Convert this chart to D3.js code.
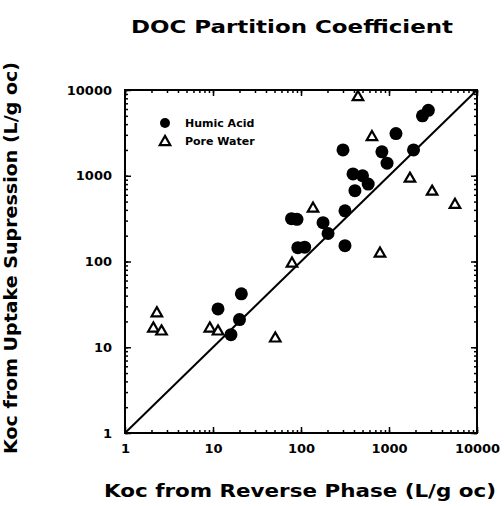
<!DOCTYPE html>
<html lang="en">
<head>
  <meta charset="UTF-8">
  <title>DOC Partition Coefficient</title>
  <script src="https://d3js.org/d3.v7.min.js"></script>
  <style>
    body {
      margin: 0;
      background-color: #fff;
    }
    text {
      font-family: "DejaVu Sans", sans-serif;
      font-weight: bold;
      fill: #000;
    }
    .frame {
      fill: none;
      stroke: #000;
      stroke-width: 2;
    }
    .axis path { display: none; }
    .axis line { stroke: #000; stroke-width: 1.5; }
    .humic { fill: #000; }
    .pore { fill: #fff; stroke: #000; stroke-width: 2.2; }
  </style>
</head>
<body>
  <svg id="chart"></svg>

  <script>
    // data (Koc reverse phase, Koc uptake supression)
    const humicX = [2800, 2400, 1200, 300, 830, 950, 1900, 390, 500, 580, 410,
                    78, 90, 178, 316, 203, 92, 110, 316, 21, 11.4, 20, 16];
    const humicY = [5800, 5000, 3100, 2000, 1900, 1400, 2000, 1050, 1000, 800, 670,
                    316, 310, 284, 390, 212, 145, 147, 153, 42, 28, 21, 14];

    const poreX = [444, 640, 1730, 3090, 5620, 790, 137, 79, 51, 2.3, 2.1, 2.6, 9.2, 11.4];
    const poreY = [8500, 2900, 950, 670, 470, 127, 425, 97, 13, 25.6, 17, 15.7, 17, 15.7];

    const tickLabels = ["1", "10", "100", "1000", "10000"];
    const legendNames = ["Humic Acid", "Pore Water"];

    const width = 504;
    const height = 506;
    const margin = {top: 90, right: 27, bottom: 73, left: 125};

    const svg = d3.select("#chart")
      .attr("width", width)
      .attr("height", height);

    const x = d3.scaleLog().domain([1, 10000]).range([margin.left, width - margin.right]);
    const y = d3.scaleLog().domain([1, 10000]).range([height - margin.bottom, margin.top]);

    // all log tick positions, 1..9 per decade
    const minor = [];
    for (let d = 1; d < 10000; d *= 10) {
      for (let k = 1; k < 10; k++) minor.push(d * k);
    }
    minor.push(10000);
    const major = tickLabels.map(Number);

    // ticks pointing into the plot on all four sides
    function drawTicks(axisFn, scale, values, size, transform, withLabels, pad) {
      const ax = axisFn(scale)
        .tickValues(values)
        .tickSizeInner(-size)
        .tickSizeOuter(0)
        .tickPadding(pad)
        .tickFormat(withLabels ? d => tickLabels[major.indexOf(d)] : "");
      return svg.append("g")
        .attr("class", "axis")
        .attr("transform", transform)
        .call(ax);
    }

    const x0 = margin.left, x1 = width - margin.right;
    const y0 = height - margin.bottom, y1 = margin.top;

    drawTicks(d3.axisBottom, x, minor, 3, `translate(0,${y0})`, false, 0);
    drawTicks(d3.axisTop, x, minor, 3, `translate(0,${y1})`, false, 0);
    drawTicks(d3.axisLeft, y, minor, 3, `translate(${x0},0)`, false, 0);
    drawTicks(d3.axisRight, y, minor, 3, `translate(${x1},0)`, false, 0);

    drawTicks(d3.axisBottom, x, major, 6, `translate(0,${y0})`, true, 11);
    drawTicks(d3.axisTop, x, major, 6, `translate(0,${y1})`, false, 0);
    drawTicks(d3.axisLeft, y, major, 6, `translate(${x0},0)`, true, 13);
    drawTicks(d3.axisRight, y, major, 6, `translate(${x1},0)`, false, 0);

    svg.selectAll(".axis text")
      .attr("font-size", 13)
      .attr("font-family", "DejaVu Sans")
      .attr("font-weight", "bold");

    // frame
    svg.append("rect")
      .attr("class", "frame")
      .attr("x", x0)
      .attr("y", y1)
      .attr("width", x1 - x0)
      .attr("height", y0 - y1);

    // 1:1 line
    svg.append("line")
      .attr("x1", x(1)).attr("y1", y(1))
      .attr("x2", x(10000)).attr("y2", y(10000))
      .attr("stroke", "#000")
      .attr("stroke-width", 2);

    const tri = d3.symbol().type(d3.symbolTriangle).size(48);

    svg.selectAll(".humic")
      .data(humicX.map((v, i) => [v, humicY[i]]))
      .enter().append("circle")
      .attr("class", "humic")
      .attr("cx", d => x(d[0]))
      .attr("cy", d => y(d[1]))
      .attr("r", 6.5);

    svg.selectAll(".pore")
      .data(poreX.map((v, i) => [v, poreY[i]]))
      .enter().append("path")
      .attr("class", "pore")
      .attr("d", tri)
      .attr("transform", d => `translate(${x(d[0])},${y(d[1]) + 1})`);

    // legend
    const legend = svg.append("g").attr("transform", "translate(165,123)");
    legend.append("circle").attr("class", "humic").attr("r", 5);
    legend.append("path").attr("class", "pore").attr("d", tri)
      .attr("transform", "translate(0,19)");
    legend.selectAll("text")
      .data(legendNames)
      .enter().append("text")
      .attr("x", 20)
      .attr("y", (d, i) => i * 18)
      .attr("dy", "0.35em")
      .attr("font-size", 11)
      .text(d => d);

    // titles
    svg.append("text")
      .attr("x", 292)
      .attr("y", 33)
      .attr("text-anchor", "middle")
      .attr("font-size", 18)
      .attr("textLength", 322)
      .attr("lengthAdjust", "spacingAndGlyphs")
      .text("DOC Partition Coefficient");

    svg.append("text")
      .attr("x", 300)
      .attr("y", 497)
      .attr("text-anchor", "middle")
      .attr("font-size", 17)
      .attr("textLength", 392)
      .attr("lengthAdjust", "spacingAndGlyphs")
      .text("Koc from Reverse Phase (L/g oc)");

    svg.append("text")
      .attr("transform", "translate(17,258) rotate(-90)")
      .attr("text-anchor", "middle")
      .attr("font-size", 17)
      .attr("textLength", 392)
      .attr("lengthAdjust", "spacingAndGlyphs")
      .text("Koc from Uptake Supression (L/g oc)");
  </script>
</body>
</html>
